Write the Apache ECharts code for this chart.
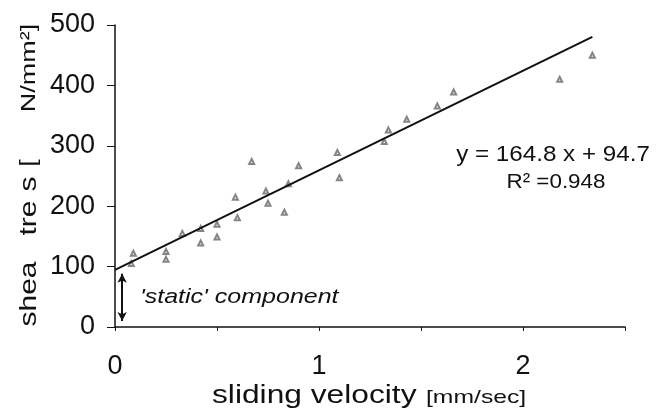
<!DOCTYPE html>
<html>
<head>
<meta charset="utf-8">
<script src="https://cdn.jsdelivr.net/npm/echarts@6/dist/echarts.min.js"></script>
<style>html,body{margin:0;padding:0;background:#fff}#c{width:656px;height:412px}</style>
</head>
<body>
<div id="c"></div>
<script>
// measured points: sliding velocity [mm/sec], shear stress [N/mm²]
var velocity = [0.08, 0.09, 0.25, 0.25, 0.33, 0.42, 0.42, 0.50, 0.50, 0.59, 0.60, 0.67, 0.74, 0.75, 0.83, 0.85, 0.90, 1.09, 1.10, 1.32, 1.34, 1.43, 1.58, 1.66, 2.18, 2.34];
var stress   = [105,  122,  125,  112,  155,  163,  139,  170,  149,  215,  181,  274,  225,  205,  190,  237,  267,  289,  247,  307,  326,  344,  366,  389,  410,  450];
// fitted line endpoints (y = 164.8 x + 94.7)
var fitX = [0, 2.34];
var fitY = [94.7, 480.3];
// static component arrow
var arrowX = [0.035, 0.035];
var arrowY = [88, 10];
var xTicks = [0, 1, 2];
var yTicks = [0, 100, 200, 300, 400, 500];
var yNameParts = ['shea', 'tre', 's', '[', 'N/mm²]'];
var xNameParts = ['sliding velocity', '[mm/sec]'];

var pts = velocity.map(function (v, i) { return [v, stress[i]]; });
var fit = fitX.map(function (v, i) { return [v, fitY[i]]; });

var chart = echarts.init(document.getElementById('c'));
var font = 'Liberation Sans, Arial, sans-serif';
var narrow = 'Liberation Sans Narrow, Liberation Sans, Arial, sans-serif';
function vtext(t, cy, size, sc) {
  return { type: 'text', x: 29, y: cy, rotation: Math.PI / 2, scaleX: sc,
    style: { text: t, fontSize: size, fontFamily: font, fill: '#111', align: 'center', verticalAlign: 'middle' } };
}
chart.setOption({
  animation: false,
  backgroundColor: '#fff',
  grid: { left: 115, right: 31, top: 25, bottom: 85 },
  xAxis: {
    type: 'value', min: 0, max: 2.5, interval: 0.5,
    axisLine: { lineStyle: { color: '#111', width: 1.5 } },
    axisTick: { length: 4, lineStyle: { color: '#111' } },
    axisLabel: { margin: 26, fontSize: 27, fontFamily: narrow, color: '#111',
      formatter: function (v) { return xTicks.indexOf(v) >= 0 ? String(v) : ''; } },
    splitLine: { show: false }
  },
  yAxis: {
    type: 'value', min: 0, max: 500, interval: 100,
    axisLine: { show: true, lineStyle: { color: '#111', width: 1.5 } },
    axisTick: { show: true, length: 8, lineStyle: { color: '#111' } },
    axisLabel: { margin: 20, fontSize: 27, fontFamily: narrow, color: '#111',
      formatter: function (v) { return yTicks.indexOf(v) >= 0 ? String(v) : ''; } },
    splitLine: { show: false }
  },
  series: [
    {
      type: 'scatter', data: pts, symbol: 'emptyTriangle', symbolSize: 5,
      itemStyle: { color: '#666', borderColor: '#666', borderWidth: 1 }, z: 3
    },
    {
      type: 'line', data: fit, showSymbol: false, symbol: 'none',
      lineStyle: { color: '#111', width: 2 }, z: 4,
      markLine: {
        silent: true, symbol: ['arrow', 'arrow'], symbolSize: [7, 9],
        lineStyle: { color: '#111', width: 2, type: 'solid' },
        label: { show: false },
        data: [[{ coord: [arrowX[0], arrowY[0]] }, { coord: [arrowX[1], arrowY[1]] }]]
      }
    }
  ],
  graphic: [
    vtext(yNameParts[0], 294, 24, 1.25),
    vtext(yNameParts[1], 218, 24, 1.25),
    vtext(yNameParts[2], 184, 24, 1.25),
    vtext(yNameParts[3], 163, 22, 1.2),
    vtext(yNameParts[4], 68, 20, 1.35),
    { type: 'text', x: 212, y: 409, scaleX: 1.22,
      style: { text: xNameParts[0], fontSize: 26, fontFamily: font, fill: '#111', align: 'left', verticalAlign: 'bottom' } },
    { type: 'text', x: 426, y: 407, scaleX: 1.3,
      style: { text: xNameParts[1], fontSize: 19, fontFamily: font, fill: '#111', align: 'left', verticalAlign: 'bottom' } },
    { type: 'text', x: 140, y: 287, scaleX: 1.25,
      style: { text: "'static' component", fontSize: 20, fontStyle: 'italic', fontFamily: font, fill: '#111' } },
    { type: 'text', x: 553, y: 155, scaleX: 1.1,
      style: { text: 'y = 164.8 x + 94.7', fontSize: 22, fontFamily: font, fill: '#111', align: 'center', verticalAlign: 'middle' } },
    { type: 'text', x: 556, y: 182, scaleX: 1.12,
      style: { text: 'R² =0.948', fontSize: 20, fontFamily: font, fill: '#111', align: 'center', verticalAlign: 'middle' } }
  ]
});
</script>
</body>
</html>
